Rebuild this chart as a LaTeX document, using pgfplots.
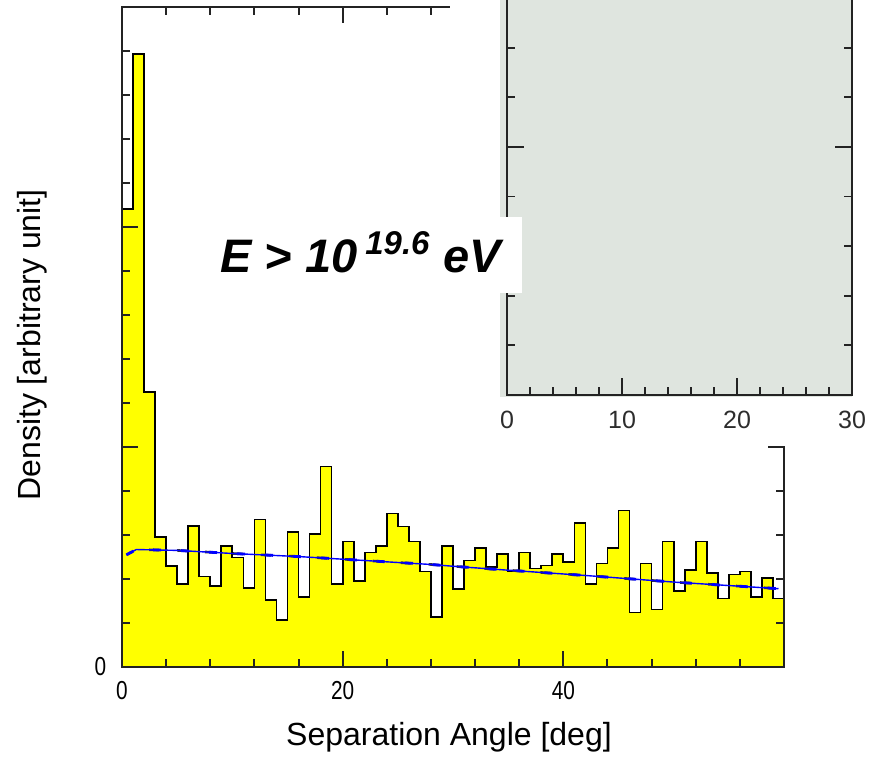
\documentclass[border=0pt]{standalone}
\usepackage{fontspec}
\setmainfont{Liberation Sans}
\newfontfamily\narrowfont{Liberation Sans}[FakeStretch=0.8]
\usepackage{pgfplots}
\usepackage{pgfplotstable}
\pgfplotsset{compat=1.18}

\definecolor{histyellow}{RGB}{255,255,0}
\definecolor{insetbg}{RGB}{223,229,223}
\definecolor{axisgray}{RGB}{35,35,35}
\definecolor{labelgray}{RGB}{45,45,45}

% pair separation histogram, 1 deg bins (value at left bin edge)
\pgfplotstableread{
x y
0 10.41
1 13.93
2 6.25
3 2.96
4 2.30
5 1.89
6 3.21
7 2.06
8 1.84
9 2.75
10 2.49
11 1.80
12 3.35
13 1.52
14 1.07
15 3.07
16 1.59
17 3.03
18 4.56
19 1.89
20 2.85
21 1.95
22 2.60
23 2.75
24 3.49
25 3.19
26 2.85
27 2.17
28 1.13
29 2.75
30 1.77
31 2.42
32 2.70
33 2.27
34 2.57
35 2.18
36 2.60
37 2.24
38 2.31
39 2.57
40 2.38
41 3.27
42 1.89
43 2.35
44 2.70
45 3.56
46 1.24
47 2.35
48 1.31
49 2.85
50 1.73
51 2.20
52 2.85
53 2.14
54 1.56
55 2.10
56 2.17
57 1.59
58 2.02
59 1.56
60 1.56
}\histdata

% isotropic expectation
\pgfplotstableread{
x y
0.4 2.55
1.3 2.67
5 2.65
10 2.58
16 2.51
20 2.45
28 2.33
30 2.29
35 2.20
42 2.08
50 1.93
59.5 1.78
}\fitdata

\begin{document}
\begin{tikzpicture}
\useasboundingbox (0,0) rectangle (436pt,380pt);
\clip (0,0) rectangle (436pt,380pt);

\begin{axis}[
  at={(61pt,46.5pt)}, anchor=south west,
  scale only axis, width=331pt, height=330pt,
  xmin=0, xmax=60, ymin=0, ymax=15,
  axis on top,
  axis line style={axisgray, line width=1pt},
  xtick={0,20,40}, xticklabels={0,20,40},
  minor xtick={4,8,12,16,24,28,32,36,44,48,52,56},
  ytick={0,5,10,15}, yticklabels={0,,,},
  minor ytick={1,2,3,4,6,7,8,9,11,12,13,14},
  tick align=inside,
  major tick length=8pt, minor tick length=4pt,
  every tick/.style={axisgray, line width=1pt},
  /pgf/number format/assume math mode=true,
  tick label style={font=\narrowfont\fontsize{13}{14}\selectfont},
  xticklabel style={anchor=center, yshift=-12pt},
  yticklabel style={anchor=center, xshift=-10.75pt},
]
\addplot[const plot, fill=histyellow, draw=black, line width=0.85pt]
  table[x=x, y=y] {\histdata} \closedcycle;
\addplot[black!80, line width=1.3pt, dash pattern=on 5pt off 9pt, dash phase=2pt]
  table[x=x, y=y] {\fitdata};
\addplot[blue, line width=0.7pt] table[x=x, y=y] {\fitdata};
\addplot[blue, line width=1.4pt, dash pattern=on 4pt off 10pt]
  table[x=x, y=y] {\fitdata};
\end{axis}

% panel for the zoomed view
\fill[white] (225pt,157pt) rectangle (436pt,380pt);
\fill[insetbg] (250pt,181.5pt) rectangle (426pt,380pt);

\begin{axis}[
  at={(253.5pt,182.5pt)}, anchor=south west,
  scale only axis, width=172.5pt, height=248pt,
  xmin=0, xmax=30, ymin=0, ymax=10,
  axis line style={axisgray, line width=1pt},
  xtick={0,10,20,30}, xticklabels={0,10,20,30},
  minor xtick={2,4,6,8,12,14,16,18,22,24,26,28},
  ytick={5,10}, yticklabels={,},
  minor ytick={1,2,3,4,6,7,8,9},
  tick align=inside,
  major tick length=8.5pt, minor tick length=4pt,
  every tick/.style={axisgray, line width=0.9pt},
  /pgf/number format/assume math mode=true,
  tick label style={font=\fontsize{12.5}{13}\selectfont, text=labelgray},
  xticklabel style={anchor=center, yshift=-12.5pt},
]
\end{axis}

% energy threshold label
\fill[white] (105pt,233.5pt) rectangle (260.85pt,271.5pt);
\node[anchor=west, inner sep=0pt] at (110pt,254pt)
  {\fontsize{23.5}{27}\selectfont\bfseries\itshape E > 10\,\textsuperscript{19.6} eV};

% axis titles
\node[anchor=base] at (224.5pt,7.5pt)
  {\fontsize{16}{19}\selectfont Separation Angle [deg]};
\node[rotate=90, anchor=base] at (20.5pt,207.5pt)
  {\fontsize{16}{19}\selectfont Density [arbitrary unit]};
\end{tikzpicture}
\end{document}
